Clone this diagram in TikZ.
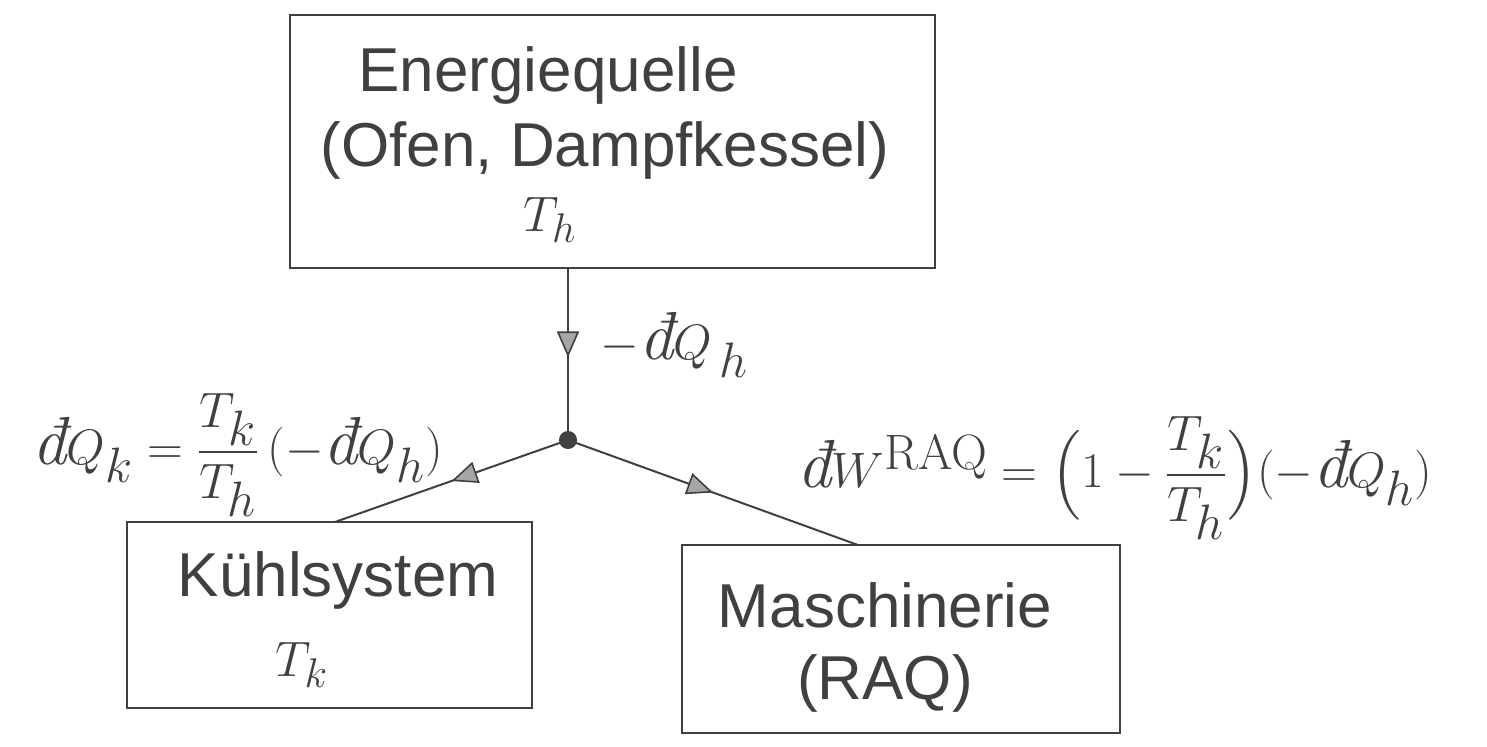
\documentclass[tikz,border=0pt]{standalone}
\usepackage{amsmath}
\usepackage[no-math]{fontspec}
\setmainfont{Liberation Sans}
\newfontfamily\lmfont{Latin Modern Roman}
\usetikzlibrary{arrows.meta,decorations.markings}
\newcommand{\dbarx}{\text{\lmfont\itshape đ}}
\definecolor{pen}{HTML}{404040}
\tikzset{
  sketchbox/.style={draw=pen, line width=1.2pt},
  txt/.style={text=pen, font=\fontsize{31}{36}\selectfont, inner sep=0pt},
  lbl/.style={text=pen, font=\fontsize{34}{40}\selectfont, inner sep=0pt},
  flow/.style={draw=pen, line width=1pt, postaction={decorate},
    decoration={markings, mark=at position #1 with {\arrow{Triangle[length=13pt,width=11pt,fill=gray!70,line width=0.8pt]}}}},
}
\begin{document}
\begin{tikzpicture}[x=0.5pt,y=-0.5pt]
\useasboundingbox (0,0) rectangle (1487,746);
% boxes
\draw[sketchbox] (290,15) rectangle (935,268);
\node[txt] (e1) at (548,75) {Energiequelle};
\node[txt] (e2) at (605,150) {(Ofen, Dampfkessel)};
\node[txt] (e3) at (550,220) {$T_h$};
\coordinate (ebot) at (568,268);

\draw[sketchbox] (127,522) rectangle (532,708);
\node[txt] (k1) at (338,580) {Kühlsystem};
\node[txt] (k2) at (302,665) {$T_k$};
\coordinate (ktop) at (335,522);

\draw[sketchbox] (682,545) rectangle (1120,733);
\node[txt] (m1) at (885,605) {Maschinerie};
\node[txt] (m2) at (885,683) {(RAQ)};
\coordinate (mtop) at (858,545);

% junction
\fill[pen] (568,440) circle (4.5pt);
\coordinate (j) at (568,440);

\draw[flow=0.52] (ebot) -- (j);
\draw[flow=0.5] (j) -- (ktop);
\draw[flow=0.5] (j) -- (mtop);

% labels
\node[lbl,anchor=west] (lq) at (600,345) {$-\dbarx Q_{\,h}$};
\node[lbl] (lk) at (238,455) {$\dbarx Q_k=\dfrac{T_k}{T_h}\,(-\dbarx Q_h)$};
\node[lbl] (lw) at (1115,478) {$\dbarx W^{\mathrm{RAQ}}=\Bigl(1-\dfrac{T_k}{T_h}\Bigr)(-\dbarx Q_h)$};
\end{tikzpicture}
\end{document}
